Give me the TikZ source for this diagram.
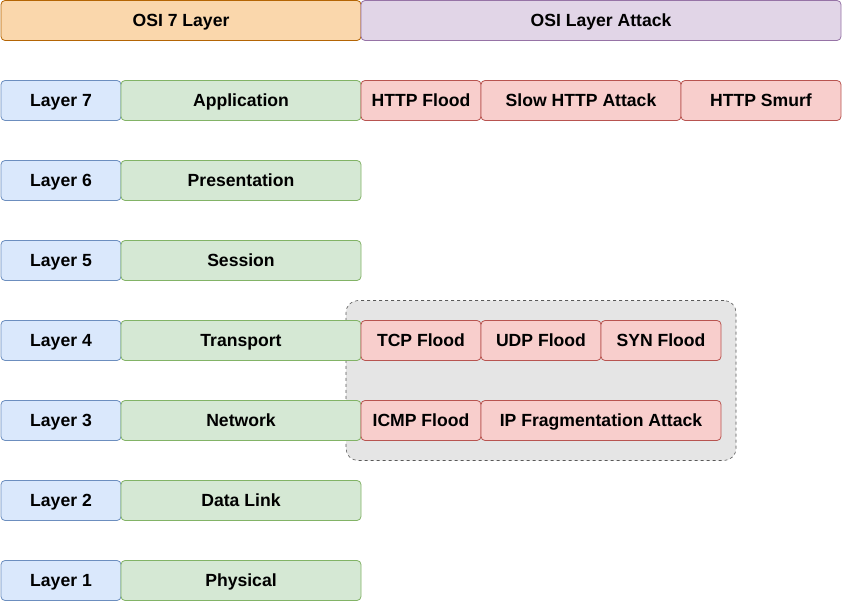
\documentclass[tikz,border=0pt]{standalone}
\usepackage{fontspec}
\setmainfont{Liberation Sans}
\usetikzlibrary{positioning, fit, backgrounds}
\definecolor{headfill}{HTML}{FAD7AC}
\definecolor{headline}{HTML}{B46504}
\definecolor{attfill}{HTML}{E1D5E7}
\definecolor{attline}{HTML}{9673A6}
\definecolor{layfill}{HTML}{DAE8FC}
\definecolor{layline}{HTML}{6C8EBF}
\definecolor{namefill}{HTML}{D5E8D4}
\definecolor{nameline}{HTML}{82B366}
\definecolor{ddosfill}{HTML}{F8CECC}
\definecolor{ddosline}{HTML}{B85450}

\begin{document}
\begin{tikzpicture}[x=1pt, y=-1pt,
        box/.style={rectangle, rounded corners=4pt, minimum height=40pt, inner sep=0pt,
                    outer sep=0pt, line width=0.8pt, text height=12.6pt, text depth=0pt,
                    font=\fontsize{17.6}{20}\selectfont\bfseries},
        headbox/.style={box, fill=headfill, draw=headline},
        attbox/.style={box, fill=attfill, draw=attline},
        laybox/.style={box, fill=layfill, draw=layline, minimum width=120pt},
        namebox/.style={box, fill=namefill, draw=nameline, minimum width=240pt},
        ddos/.style={box, fill=ddosfill, draw=ddosline},
        group/.style={rectangle, rounded corners=12pt, draw=black!65, fill=black!10,
                      dashed, line width=0.6pt, inner xsep=15pt, inner ysep=20pt},
    ]
        \useasboundingbox (0,0) rectangle (842,601);

        % En-tetes
        \node[headbox, minimum width=360pt, anchor=north west] (osi) at (1,0.5) {OSI 7 Layer};
        \node[attbox, minimum width=480pt, right=0pt of osi] (attack) {OSI Layer Attack};

        % Couches
        \node[laybox, anchor=north west] (l7) at (1,80.5) {Layer 7};
        \node[laybox, below=40pt of l7] (l6) {Layer 6};
        \node[laybox, below=40pt of l6] (l5) {Layer 5};
        \node[laybox, below=40pt of l5] (l4) {Layer 4};
        \node[laybox, below=40pt of l4] (l3) {Layer 3};
        \node[laybox, below=40pt of l3] (l2) {Layer 2};
        \node[laybox, below=40pt of l2] (l1) {Layer 1};

        \node[namebox, right=0pt of l7] (app) {Application};
        \node[namebox, right=0pt of l6] (pres) {Presentation};
        \node[namebox, right=0pt of l5] (sess) {Session};
        \node[namebox, right=0pt of l4] (trans) {Transport};
        \node[namebox, right=0pt of l3] (net) {Network};
        \node[namebox, right=0pt of l2] (link) {Data Link};
        \node[namebox, right=0pt of l1] (phys) {Physical};

        % Attaques couche 7
        \node[ddos, minimum width=120pt, right=0pt of app] (httpflood) {HTTP Flood};
        \node[ddos, minimum width=200pt, right=0pt of httpflood] (slowhttp) {Slow HTTP Attack};
        \node[ddos, minimum width=160pt, right=0pt of slowhttp] (smurf) {HTTP Smurf};

        % Attaques couches 4 et 3
        \node[ddos, minimum width=120pt, right=0pt of trans] (tcpflood) {TCP Flood};
        \node[ddos, minimum width=120pt, right=0pt of tcpflood] (udpflood) {UDP Flood};
        \node[ddos, minimum width=120pt, right=0pt of udpflood] (synflood) {SYN Flood};
        \node[ddos, minimum width=120pt, right=0pt of net] (icmpflood) {ICMP Flood};
        \node[ddos, minimum width=240pt, right=0pt of icmpflood] (ipfrag) {IP Fragmentation Attack};

        \begin{scope}[on background layer]
            \node[group, fit=(tcpflood) (ipfrag)] (netgroup) {};
        \end{scope}
    \end{tikzpicture}
\end{document}
